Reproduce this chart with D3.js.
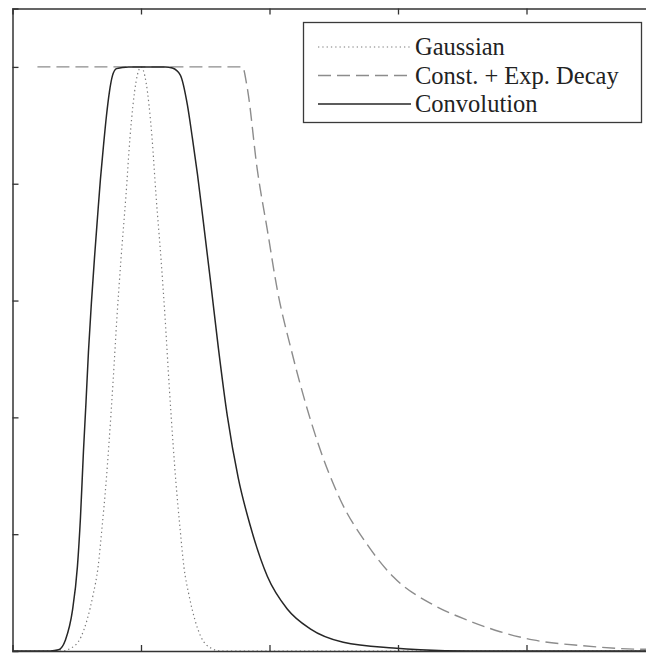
<!DOCTYPE html>
<html>
<head>
<meta charset="utf-8">
<script src="https://cdn.jsdelivr.net/npm/d3@7"></script>
<style>
  body { margin: 0; background: #fff; }
  svg { display: block; }
</style>
</head>
<body>
<svg id="chart" width="646" height="653"></svg>
<script>
// values (x in axis units, y normalised to peak 1)
var gaussX = [0, 0.378, 0.456, 0.533, 0.580, 0.627, 0.666, 0.697, 0.728, 0.751, 0.782, 0.813, 0.844, 0.883, 0.914, 0.961, 1.0,
              1.039, 1.086, 1.117, 1.156, 1.187, 1.218, 1.249, 1.272, 1.303, 1.334, 1.373, 1.420, 1.467, 1.544, 1.622, 5];
var gaussY = [0, 0, 0.005, 0.024, 0.053, 0.096, 0.144, 0.212, 0.288, 0.356, 0.459, 0.572, 0.670, 0.780, 0.878, 0.974, 1.0,
              0.974, 0.878, 0.780, 0.670, 0.572, 0.459, 0.356, 0.288, 0.212, 0.144, 0.096, 0.053, 0.024, 0.005, 0, 0];

var decayX = [0.194, 1.789, 1.827, 1.905, 1.983, 2.061, 2.170, 2.356, 2.551, 2.761, 2.963, 3.274, 3.538, 3.795, 4.051, 4.440, 4.907, 5];
var decayY = [1.0, 1.0, 0.964, 0.824, 0.721, 0.618, 0.515, 0.370, 0.259, 0.182, 0.127, 0.079, 0.053, 0.033, 0.019, 0.009, 0.003, 0.003];

var convX = [0, 0.295, 0.358, 0.412, 0.467, 0.505, 0.529, 0.552, 0.572, 0.591, 0.614, 0.638, 0.661, 0.684, 0.708, 0.731, 0.754, 0.778, 0.809, 0.855, 0.902,
             1.190, 1.244, 1.306, 1.361, 1.400, 1.439, 1.485, 1.540, 1.602, 1.672, 1.757, 1.851, 1.983, 2.138, 2.317, 2.574, 2.963, 3.173, 3.561, 5];
var convY = [0, 0, 0.002, 0.019, 0.070, 0.144, 0.229, 0.341, 0.426, 0.512, 0.596, 0.673, 0.741, 0.807, 0.865, 0.916, 0.957, 0.985, 0.997, 0.999, 1.0,
             1.0, 0.998, 0.986, 0.935, 0.878, 0.817, 0.735, 0.635, 0.519, 0.402, 0.296, 0.214, 0.128, 0.072, 0.038, 0.015, 0.005, 0.002, 0, 0];

var xTicks = [1, 2, 3, 4];
var yTicks = [0.2, 0.4, 0.6, 0.8, 1.0];
var legendLabels = ["Gaussian", "Const. + Exp. Decay", "Convolution"];

var LEFT = 12.5, RIGHT = 655, TOP = 8.5, BOTTOM = 651;
var TICK = 6;

var svg = d3.select("#chart");

var x = d3.scaleLinear().domain([0, 5]).range([LEFT, RIGHT]);
var y = d3.scaleLinear().domain([0, 1.1]).range([BOTTOM, TOP]);

function zip(xs, ys){ return xs.map(function(d, i){ return [d, ys[i]]; }); }

var line = d3.line()
    .x(function(d){ return x(d[0]); })
    .y(function(d){ return y(d[1]); })
    .curve(d3.curveMonotoneX);

var series = [
    {name: legendLabels[0], data: zip(gaussX, gaussY), stroke: "#7a7a7a", width: 1.2, dash: "1.3,3"},
    {name: legendLabels[1], data: zip(decayX, decayY), stroke: "#8c8c8c", width: 1.4, dash: "13,6"},
    {name: legendLabels[2], data: zip(convX, convY), stroke: "#262626", width: 1.5, dash: null}
];

svg.append("clipPath").attr("id", "plotclip")
  .append("rect").attr("x", LEFT).attr("y", TOP).attr("width", RIGHT - LEFT).attr("height", BOTTOM - TOP);

svg.append("g").attr("clip-path", "url(#plotclip)")
  .selectAll("path.curve")
  .data(series)
  .enter().append("path")
    .attr("class", "curve")
    .attr("fill", "none")
    .attr("stroke", function(d){ return d.stroke; })
    .attr("stroke-width", function(d){ return d.width; })
    .attr("stroke-dasharray", function(d){ return d.dash; })
    .attr("d", function(d){ return line(d.data); });

// axes box (left, top, bottom edges; right edge lies outside the picture)
var axisColor = "#333";
var bottomAxis = d3.axisBottom(x).tickValues(xTicks).tickSize(-TICK).tickFormat("");
var topAxis = d3.axisTop(x).tickValues(xTicks).tickSize(-TICK).tickFormat("");
var leftAxis = d3.axisLeft(y).tickValues(yTicks).tickSize(-TICK).tickFormat("");

function styleAxis(g){
    g.select(".domain").attr("stroke", axisColor).attr("stroke-width", 1.5);
    g.selectAll(".tick line").attr("stroke", axisColor).attr("stroke-width", 1.3);
}

svg.append("g").attr("transform", "translate(0," + BOTTOM + ")").call(bottomAxis).call(styleAxis);
svg.append("g").attr("transform", "translate(0," + TOP + ")").call(topAxis).call(styleAxis);
svg.append("g").attr("transform", "translate(" + LEFT + ",0)").call(leftAxis).call(styleAxis);

// legend
var LEG_X = 303.5, LEG_Y = 22.5, LEG_W = 338, LEG_H = 100;
var legend = svg.append("g").attr("class", "legend");
legend.append("rect")
    .attr("x", LEG_X).attr("y", LEG_Y)
    .attr("width", LEG_W).attr("height", LEG_H)
    .attr("fill", "#fff")
    .attr("stroke", "#3a3a3a")
    .attr("stroke-width", 1.3);

var rows = legend.selectAll("g.row")
    .data(series)
    .enter().append("g")
    .attr("class", "row")
    .attr("transform", function(d, i){ return "translate(0," + (47 + i * 28.5) + ")"; });

rows.append("line")
    .attr("x1", 318).attr("x2", 411)
    .attr("y1", 0).attr("y2", 0)
    .attr("stroke", function(d){ return d.stroke; })
    .attr("stroke-width", function(d){ return d.width; })
    .attr("stroke-dasharray", function(d){ return d.dash; });

rows.append("text")
    .attr("x", 415)
    .attr("y", 8)
    .attr("font-family", "'Liberation Serif', 'DejaVu Serif', serif")
    .attr("font-size", "24.5px")
    .attr("fill", "#222")
    .text(function(d){ return d.name; });
</script>
</body>
</html>
